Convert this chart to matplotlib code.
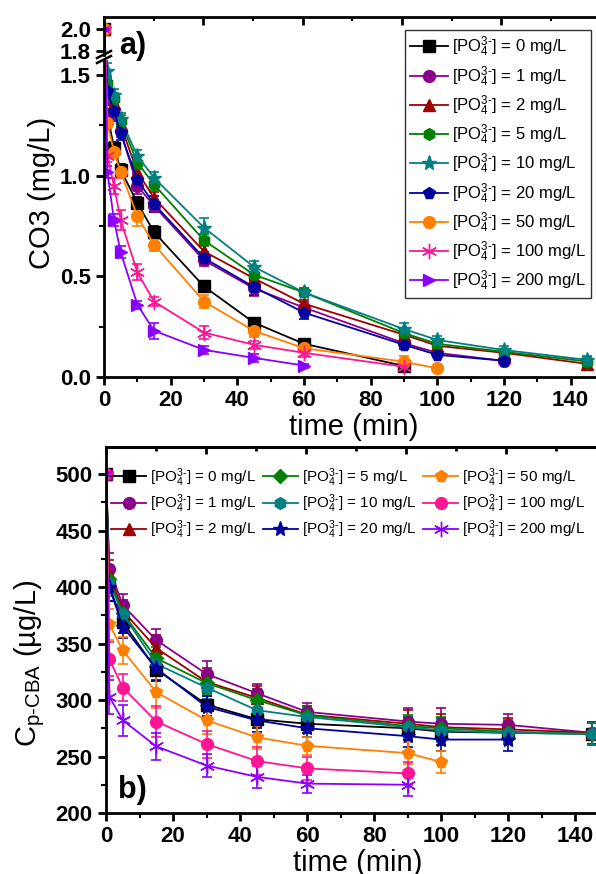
import matplotlib
matplotlib.use("Agg")
import matplotlib.pyplot as plt
from matplotlib.ticker import MultipleLocator
from matplotlib.lines import Line2D

plt.rcParams['font.family'] = ['Liberation Sans', 'DejaVu Sans']
plt.rcParams['mathtext.fontset'] = 'custom'
plt.rcParams['mathtext.rm'] = 'Liberation Sans'
plt.rcParams['mathtext.it'] = 'Liberation Sans:italic'
plt.rcParams['mathtext.bf'] = 'Liberation Sans:bold'

W, H = 596, 874

conc = [0, 1, 2, 5, 10, 20, 50, 100, 200]
colors = ['#000000', '#8B008B', '#A00000', '#008000', '#008080',
          '#0000A0', '#FF8000', '#FF1493', '#8A00FF']

# ---- panel a: ozone decay (mg/L)
t_a = [0, 1, 3, 5, 10, 15, 30, 45, 60, 90, 100, 120, 145]
o3_0 = [2.0, 1.30, 1.14, 1.03, 0.865, 0.72, 0.45, 0.27, 0.165, 0.055]
o3_1 = [2.0, 1.38, 1.30, 1.22, 0.95, 0.85, 0.58, 0.44, 0.345, 0.168, 0.12, 0.08]
o3_2 = [2.0, 1.45, 1.36, 1.25, 1.02, 0.89, 0.624, 0.49, 0.364, 0.21, 0.155, 0.12, 0.065]
o3_5 = [2.0, 1.46, 1.38, 1.27, 1.065, 0.957, 0.679, 0.508, 0.42, 0.218, 0.165, 0.125, 0.077]
o3_10 = [2.0, 1.52, 1.40, 1.28, 1.10, 0.99, 0.742, 0.547, 0.42, 0.238, 0.184, 0.134, 0.085]
o3_20 = [2.0, 1.42, 1.32, 1.21, 0.98, 0.86, 0.591, 0.447, 0.32, 0.16, 0.11, 0.081]
o3_50 = [2.0, 1.26, 1.12, 1.02, 0.80, 0.658, 0.375, 0.229, 0.143, 0.076, 0.043]
o3_100 = [2.0, 1.10, 0.95, 0.78, 0.52, 0.375, 0.221, 0.16, 0.12, 0.051]
o3_200 = [2.0, 1.02, 0.78, 0.62, 0.36, 0.23, 0.135, 0.095, 0.057]

e_0 = [0.02, 0.03, 0.03, 0.03, 0.03, 0.03, 0.02, 0.02, 0.01, 0.01]
e_1 = [0.02, 0.03, 0.03, 0.03, 0.04, 0.03, 0.03, 0.04, 0.03, 0.02, 0.01, 0.01]
e_2 = [0.02, 0.03, 0.03, 0.03, 0.03, 0.03, 0.03, 0.03, 0.02, 0.02, 0.02, 0.01, 0.02]
e_5 = [0.02, 0.03, 0.03, 0.03, 0.03, 0.03, 0.03, 0.03, 0.02, 0.02, 0.02, 0.01, 0.02]
e_10 = [0.02, 0.04, 0.03, 0.03, 0.03, 0.03, 0.05, 0.03, 0.02, 0.03, 0.02, 0.02, 0.02]
e_20 = [0.02, 0.03, 0.03, 0.03, 0.03, 0.04, 0.03, 0.04, 0.03, 0.02, 0.01, 0.01]
e_50 = [0.02, 0.03, 0.03, 0.03, 0.05, 0.03, 0.03, 0.03, 0.02, 0.03, 0.01]
e_100 = [0.02, 0.03, 0.04, 0.05, 0.04, 0.02, 0.03, 0.02, 0.02, 0.02]
e_200 = [0.02, 0.03, 0.03, 0.03, 0.02, 0.04, 0.02, 0.02, 0.01]

o3_all = [o3_0, o3_1, o3_2, o3_5, o3_10, o3_20, o3_50, o3_100, o3_200]
o3_err = [e_0, e_1, e_2, e_5, e_10, e_20, e_50, e_100, e_200]
markers_a = ['s', 'o', '^', 'h', '*', 'p', 'o', (6, 2, 0), '>']

# ---- panel b: p-CBA (ug/L)
t_b = [0, 1, 5, 15, 30, 45, 60, 90, 100, 120, 145]
pc_0 = [500, 400, 369, 327, 296, 283, 279, 275, 272, 271, 270]
pc_1 = [500, 416, 384, 353, 323, 306, 289.5, 281, 279, 278, 271]
pc_2 = [500, 412, 379, 346, 316, 302, 287, 279, 276, 274, 271]
pc_5 = [500, 407, 377, 337, 315, 300, 286.5, 277, 275, 272, 270]
pc_10 = [500, 404, 376, 332, 311, 291, 285, 276, 273, 271, 270]
pc_20 = [500, 400, 365, 328, 294, 282, 275, 268, 265, 265]
pc_50 = [500, 367, 344, 307, 282, 267, 259.5, 253, 245]
pc_100 = [500, 336, 311, 281, 261, 246, 239.5, 235]
pc_200 = [500, 303, 282, 259, 242, 232, 226, 225]

s_0 = [3, 12, 10, 10, 10, 8, 8, 10, 12, 10, 10]
s_1 = [3, 14, 10, 10, 12, 8, 8, 12, 14, 10, 10]
s_2 = [3, 12, 10, 12, 12, 10, 8, 12, 12, 10, 10]
s_5 = [3, 12, 10, 10, 10, 10, 8, 10, 10, 10, 10]
s_10 = [3, 12, 10, 10, 10, 10, 8, 10, 10, 10, 10]
s_20 = [3, 12, 10, 10, 10, 10, 8, 10, 10, 10]
s_50 = [3, 14, 12, 14, 12, 10, 8, 10, 10]
s_100 = [3, 15, 12, 14, 12, 12, 10, 10]
s_200 = [3, 15, 14, 12, 10, 10, 8, 10]

pc_all = [pc_0, pc_1, pc_2, pc_5, pc_10, pc_20, pc_50, pc_100, pc_200]
pc_err = [s_0, s_1, s_2, s_5, s_10, s_20, s_50, s_100, s_200]
markers_b = ['s', 'o', '^', 'D', 'h', '*', 'p', 'o', (6, 2, 0)]


def box(x0, y0, x1, y1):
    return [x0 / W, 1 - y1 / H, (x1 - x0) / W, (y1 - y0) / H]


def label_for(c):
    return r'[PO$_4^{3\text{-}}$] = ' + str(c) + ' mg/L'


def msize(m):
    if m == '*' or m == (6, 2, 0):
        return 11
    if m == 'D':
        return 7
    return 8.5


def style(ax):
    for s in ax.spines.values():
        s.set_linewidth(2)
    ax.tick_params(which='major', direction='out', length=6, width=2, labelsize=16)
    ax.tick_params(which='minor', direction='out', length=3.5, width=1.5)


def bold_labels(ax):
    for lab in ax.get_xticklabels() + ax.get_yticklabels():
        lab.set_fontweight('bold')


def handles(markers):
    return [Line2D([], [], color=colors[i], marker=markers[i], markersize=msize(markers[i]),
                   lw=1.3, label=label_for(conc[i])) for i in range(len(conc))]


fig = plt.figure(figsize=(W / 100, H / 100), dpi=100)

ax_hi = fig.add_axes(box(104, 17, 604, 55))
ax_lo = fig.add_axes(box(104, 60, 604, 377))
ax_b = fig.add_axes(box(106, 447, 609, 813))

for ax in (ax_hi, ax_lo):
    for i in range(len(conc)):
        y = o3_all[i]
        ax.errorbar(t_a[:len(y)], y, yerr=o3_err[i], color=colors[i],
                    marker=markers_a[i], markersize=msize(markers_a[i]), lw=1.3,
                    elinewidth=1.2, capsize=3.5, capthick=1.2)

ax_hi.set_xlim(0, 150)
ax_lo.set_xlim(0, 150)
ax_hi.set_ylim(1.764, 2.109)
ax_lo.set_ylim(0, 1.575)
ax_hi.set_yticks([1.8, 2.0])
ax_hi.set_yticklabels(['1.8', '2.0'])
ax_lo.yaxis.set_major_locator(MultipleLocator(0.5))
ax_lo.yaxis.set_minor_locator(MultipleLocator(0.25))
ax_lo.yaxis.set_major_formatter('{x:.1f}')
ax_lo.xaxis.set_major_locator(MultipleLocator(20))
ax_lo.xaxis.set_minor_locator(MultipleLocator(10))
ax_hi.xaxis.set_major_locator(MultipleLocator(29.8))
ax_hi.xaxis.set_minor_locator(MultipleLocator(14.9))
ax_hi.spines['bottom'].set_visible(False)
ax_lo.spines['top'].set_visible(False)
style(ax_hi)
style(ax_lo)
ax_hi.tick_params(axis='x', which='both', bottom=False, labelbottom=False,
                  top=True, direction='in')
ax_hi.tick_params(axis='x', which='minor', length=3)
ax_lo.set_xlabel('time (min)', fontsize=21, labelpad=1)
ax_lo.set_ylabel('CO3 (mg/L)', fontsize=21)
ax_lo.yaxis.set_label_coords(-0.096, 0.58)

# axis break marks
for dy in (0, 5):
    fig.add_artist(Line2D([97 / W, 111 / W], [1 - (58 + dy) / H, 1 - (51 + dy) / H],
                          color='black', lw=1.8, transform=fig.transFigure))

leg = ax_lo.legend(handles=handles(markers_a), loc='upper left',
                   bbox_to_anchor=(405 / W, 1 - 30 / H),
                   bbox_transform=fig.transFigure, fontsize=12, frameon=True,
                   fancybox=False, edgecolor='black', handlelength=2.3,
                   handletextpad=0.2, labelspacing=0.29, borderpad=0.3,
                   borderaxespad=0)
leg.get_frame().set_linewidth(1.0)
fig.text(119 / W, 1 - 46 / H, 'a)', fontsize=22, fontweight='bold', va='center')

# ---- panel b
for i in range(len(conc)):
    y = pc_all[i]
    ax_b.errorbar(t_b[:len(y)], y, yerr=pc_err[i], color=colors[i],
                  marker=markers_b[i], markersize=msize(markers_b[i]), lw=1.3,
                  elinewidth=1.2, capsize=3.5, capthick=1.2)

ax_b.set_xlim(0, 150)
ax_b.set_ylim(200, 524)
ax_b.yaxis.set_major_locator(MultipleLocator(50))
ax_b.yaxis.set_minor_locator(MultipleLocator(25))
ax_b.xaxis.set_major_locator(MultipleLocator(20))
ax_b.xaxis.set_minor_locator(MultipleLocator(10))
style(ax_b)
sec = ax_b.secondary_xaxis('top')
sec.xaxis.set_major_locator(MultipleLocator(29.8))
sec.xaxis.set_minor_locator(MultipleLocator(14.9))
sec.tick_params(which='both', direction='in', labeltop=False, width=2, length=5)
sec.tick_params(which='minor', length=3)
sec.spines['top'].set_linewidth(2)
ax_b.set_xlabel('time (min)', fontsize=21, labelpad=1)
ax_b.set_ylabel(r'C$_{\text{p-CBA}}$ (µg/L)', fontsize=21)
ax_b.yaxis.set_label_coords(-0.117, 0.41)

ax_b.legend(handles=handles(markers_b), loc='upper left',
            bbox_to_anchor=(111 / W, 1 - 466 / H),
            bbox_transform=fig.transFigure, ncol=3, fontsize=11, frameon=False,
            handlelength=2.3, handletextpad=0.25, labelspacing=0.25,
            columnspacing=0.45, borderaxespad=0, borderpad=0)
fig.text(118 / W, 1 - 790 / H, 'b)', fontsize=22, fontweight='bold', va='center')

for ax in (ax_hi, ax_lo, ax_b):
    bold_labels(ax)

fig.savefig('out.png', dpi=100)
